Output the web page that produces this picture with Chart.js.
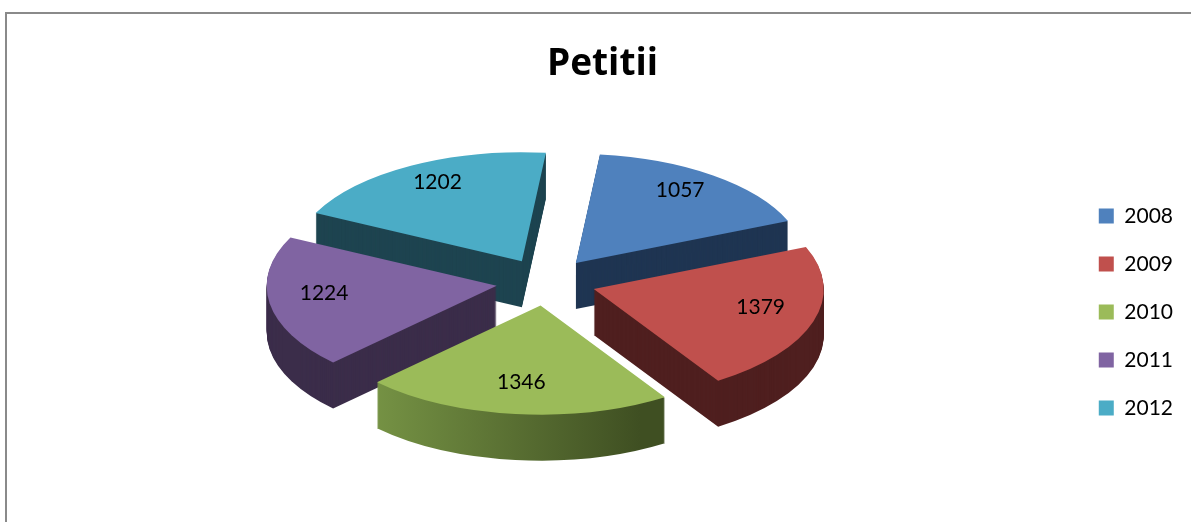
<!DOCTYPE html>
<html>
<head>
<meta charset="utf-8">
<title>Petitii</title>
<script src="https://cdn.jsdelivr.net/npm/chart.js@4.4.1/dist/chart.umd.min.js"></script>
<style>
    body { margin: 0; background: #ffffff; }
    #wrap { position: relative; width: 1191px; height: 522px; overflow: hidden; }
    #frame {
        position: absolute; left: 5px; top: 12px; width: 1300px; height: 600px;
        border-top: 2px solid #8a8a8a; border-left: 2px solid #8a8a8a;
    }
    #chart { position: absolute; left: 0; top: 0; }
</style>
</head>
<body>
<div id="wrap">
    <div id="frame"></div>
    <canvas id="chart" width="1191" height="522"></canvas>
</div>
<script>
// Data
const years = ['2008', '2009', '2010', '2011', '2012'];
const petitions = [1057, 1379, 1346, 1224, 1202];

// Office 2007 palette: top faces and darker sides
const topColors = ['#4f81bd', '#c0504d', '#9bbb59', '#8064a2', '#4bacc6'];
const sideColors = ['#1f3552', '#4f1f1f', null, '#3b2d4a', '#1e4450'];

// Fake 3D look
const PIE_X = 546;     // centre of the pie on screen
const PIE_Y = 282;
const RADIUS = 230;
const TILT = 0.474;    // vertical squash of the disc
const DEPTH = 46;      // thickness in px
const EXPLODE = 50;    // slice pull-out in px
const LABEL_R = 0.76;  // label distance as part of the radius

function midAngle(arc) {
    return (arc.startAngle + arc.endAngle) / 2;
}

// Draw one arc element with another fill, squashed and pulled out
function drawArcAs(ctx, arc, fill, d) {
    const m = midAngle(arc);
    const ex = Math.cos(m) * EXPLODE;
    const ey = Math.sin(m) * EXPLODE;
    const tx = PIE_X + ex - arc.x;
    const ty = PIE_Y + d + TILT * (ey - arc.y);
    ctx.save();
    ctx.translate(tx, ty);
    ctx.scale(1, TILT);
    let style = fill;
    if (fill === null) {
        // the green front side fades from light to dark
        const g = ctx.createLinearGradient(312 - tx, 0, 640 - tx, 0);
        g.addColorStop(0, '#82a24c');
        g.addColorStop(1, '#3f4f22');
        style = g;
    }
    const saved = arc.options;
    arc.options = Object.assign({}, saved, { backgroundColor: style, borderWidth: 0, offset: 0 });
    arc.draw(ctx);
    arc.options = saved;
    ctx.restore();
}

const pie3d = {
    id: 'pie3d',
    beforeDatasetsDraw(chart) {
        const ctx = chart.ctx;
        const arcs = chart.getDatasetMeta(0).data;
        // paint from back to front
        const order = arcs.map((a, i) => i)
            .sort((i, j) => Math.sin(midAngle(arcs[i])) - Math.sin(midAngle(arcs[j])));
        order.forEach(i => {
            const arc = arcs[i];
            for (let d = DEPTH; d >= 1; d--) {
                drawArcAs(ctx, arc, sideColors[i], d);
            }
            drawArcAs(ctx, arc, topColors[i], 0);
        });
        return false; // skip the flat default drawing
    },
    afterDraw(chart) {
        // value labels on the top faces
        const ctx = chart.ctx;
        const arcs = chart.getDatasetMeta(0).data;
        const values = chart.data.datasets[0].data;
        ctx.save();
        ctx.font = '21px Lato';
        ctx.fillStyle = '#000000';
        ctx.textAlign = 'center';
        ctx.textBaseline = 'middle';
        arcs.forEach((arc, i) => {
            const m = midAngle(arc);
            const r = EXPLODE + RADIUS * LABEL_R;
            const x = PIE_X + Math.cos(m) * r;
            const y = PIE_Y + Math.sin(m) * r * TILT - 6;
            ctx.fillText(String(values[i]), x, y);
        });
        ctx.restore();
    }
};

const ctx = document.getElementById('chart');
new Chart(ctx, {
    type: 'pie',
    data: {
        labels: years,
        datasets: [{
            data: petitions,
            backgroundColor: topColors,
            borderWidth: 0,
            radius: RADIUS,
            rotation: 6,
            clip: false
        }]
    },
    options: {
        responsive: false,
        animation: false,
        events: [],
        layout: { padding: { left: 22, right: 8, top: 0, bottom: 0 } },
        plugins: {
            title: {
                display: true,
                text: 'Petitii',
                color: '#000000',
                font: { family: 'Open Sans', size: 37, weight: 'bold' },
                padding: { top: 42, bottom: 14 }
            },
            legend: {
                position: 'right',
                // empty legend title only pushes the items down
                title: {
                    display: true,
                    text: ' ',
                    font: { size: 10 },
                    padding: { top: 0, bottom: 90 }
                },
                labels: {
                    color: '#000000',
                    font: { family: 'Lato', size: 21 },
                    boxWidth: 15,
                    boxHeight: 15,
                    padding: 27
                }
            },
            tooltip: { enabled: false }
        }
    },
    plugins: [pie3d]
});
</script>
</body>
</html>
